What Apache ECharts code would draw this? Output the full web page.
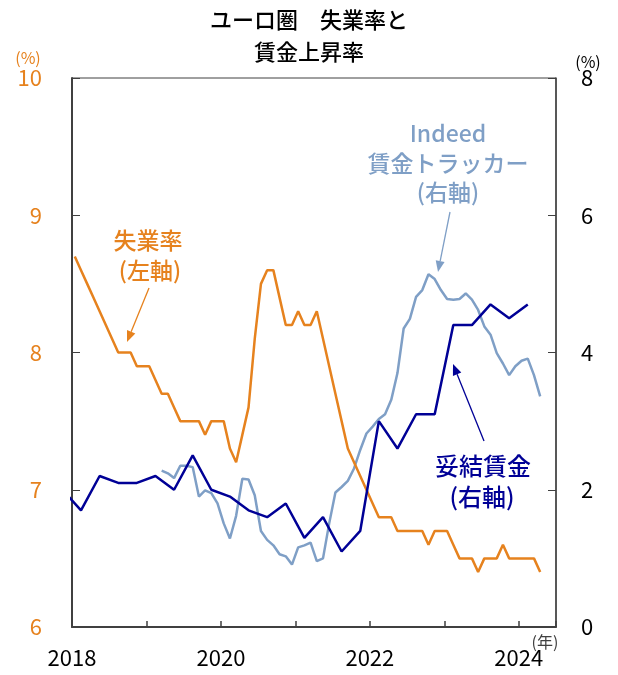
<!DOCTYPE html>
<html>
<head>
<meta charset="utf-8">
<script src="https://cdn.jsdelivr.net/npm/echarts@6/dist/echarts.min.js"></script>
<style>
html, body { margin: 0; padding: 0; background: #fff; }
#echart { width: 618px; height: 675px; }
</style>
</head>
<body>
<div id="echart"></div>
<script>
// 失業率 (左軸, %), monthly from 2018-01
var unempStart = [2018, 1];
var unemployment = [
	8.7, 8.6, 8.5, 8.4, 8.3, 8.2, 8.1, 8.0, 8.0, 8.0, 7.9, 7.9,
	7.9, 7.8, 7.7, 7.7, 7.6, 7.5, 7.5, 7.5, 7.5, 7.4, 7.5, 7.5,
	7.5, 7.3, 7.2, 7.4, 7.6, 8.1, 8.5, 8.6, 8.6, 8.4, 8.2, 8.2,
	8.3, 8.2, 8.2, 8.3, 8.1, 7.9, 7.7, 7.5, 7.3, 7.2, 7.1, 7.0,
	6.9, 6.8, 6.8, 6.8, 6.7, 6.7, 6.7, 6.7, 6.7, 6.6, 6.7, 6.7,
	6.7, 6.6, 6.5, 6.5, 6.5, 6.4, 6.5, 6.5, 6.5, 6.6, 6.5, 6.5,
	6.5, 6.5, 6.5, 6.4
];
// 妥結賃金 (右軸, %), quarterly from 2017Q4
var wageStart = [2017, 4];
var negotiatedWages = [
	2.0,
	1.7, 2.2, 2.1, 2.1,
	2.2, 2.0, 2.5, 2.0,
	1.9, 1.7, 1.6, 1.8,
	1.3, 1.6, 1.1, 1.4,
	3.0, 2.6, 3.1, 3.1,
	4.4, 4.4, 4.7, 4.5,
	4.7
];
// Indeed 賃金トラッカー (右軸, %), monthly from 2019-03
var indeedStart = [2019, 3];
var indeedTracker = [
	2.28, 2.24, 2.17, 2.35, 2.35, 2.33, 1.90, 1.99, 1.95, 1.80,
	1.51, 1.29, 1.62, 2.16, 2.15, 1.92, 1.40, 1.27, 1.19, 1.06, 1.03, 0.91,
	1.16, 1.19, 1.23, 0.96, 1.00, 1.51, 1.96, 2.04, 2.13, 2.31, 2.58, 2.82,
	2.92, 3.03, 3.10, 3.31, 3.70, 4.35, 4.49, 4.81, 4.91, 5.14, 5.07, 4.91,
	4.78, 4.77, 4.78, 4.86, 4.77, 4.62, 4.38, 4.26, 3.99, 3.84, 3.67, 3.80,
	3.88, 3.91, 3.67, 3.36
];
var yearLabels = [2018, 2020, 2022, 2024];

var ORANGE = '#E6821E';
var NAVY = '#000096';
var LIGHT = '#7F9FC6';
var AXIS = '#404040';
var FONT = "'Noto Sans CJK JP', 'Noto Sans', sans-serif";

// mid-month position on a decimal-year axis
function monthly(start, values) {
	return values.map(function (v, i) {
		var m = start[1] - 1 + i;
		return [start[0] + (m + 0.45) / 12, v];
	});
}
function quarterly(start, values) {
	return values.map(function (v, i) {
		var q = start[1] - 1 + i;
		return [start[0] + (q * 3 + 1 + 0.45) / 12, v];
	});
}

function arrow(x1, y1, x2, y2, color) {
	var a = Math.atan2(y2 - y1, x2 - x1);
	var c = Math.cos(a), s = Math.sin(a);
	var L = 11, W = 4.5;
	var bx = x2 - L * c, by = y2 - L * s;
	return [{
		type: 'line',
		shape: { x1: x1, y1: y1, x2: bx, y2: by },
		style: { stroke: color, lineWidth: 1.3 }
	}, {
		type: 'polygon',
		shape: { points: [[x2, y2], [bx - s * W, by + c * W], [bx + s * W, by - c * W]] },
		style: { fill: color }
	}];
}

function label(x, y, text, size, color, weight) {
	return {
		type: 'text', x: x, y: y,
		style: {
			text: text, fill: color,
			font: (weight || 'normal') + ' ' + size + 'px ' + FONT,
			textAlign: 'center', textVerticalAlign: 'middle'
		}
	};
}

var myChart = echarts.init(document.getElementById('echart'));

var graphics = [
	label(309, 20, 'ユーロ圏　失業率と', 22, '#000', 500),
	label(309, 52, '賃金上昇率', 22, '#000', 500),
	label(28, 58, '(%)', 16, ORANGE),
	label(588, 62, '(%)', 16, '#000'),
	label(545, 642, '(年)', 16, AXIS),
	label(448, 133, 'Indeed', 23, LIGHT, 500),
	label(448, 163, '賃金トラッカー', 23, LIGHT, 500),
	label(448, 192, '(右軸)', 23, LIGHT, 500),
	label(148, 240, '失業率', 23, ORANGE, 500),
	label(150, 270, '(左軸)', 23, ORANGE, 500),
	label(483, 466, '妥結賃金', 24, NAVY, 500),
	label(482, 497, '(右軸)', 24, NAVY, 500)
].concat(
	arrow(450, 212, 438, 272, LIGHT),
	arrow(149, 288, 127, 342, ORANGE),
	arrow(484, 441, 453, 364, NAVY)
);

var option = {
	animation: false,
	grid: {
		left: 72,
		right: 62,
		top: 78,
		bottom: 48,
		show: true,
		borderColor: AXIS,
		borderWidth: 1
	},
	xAxis: {
		type: 'value',
		min: 2018,
		max: 2024.5,
		interval: 1,
		splitLine: { show: false },
		axisLine: { lineStyle: { color: AXIS, width: 2 } },
		axisTick: { inside: true, length: 6, lineStyle: { color: AXIS, width: 1.5 } },
		axisLabel: {
			margin: 20,
			fontSize: 22,
			color: '#000',
			fontFamily: FONT,
			formatter: function (v) {
				return yearLabels.indexOf(v) >= 0 ? String(v) : '';
			}
		}
	},
	yAxis: [{
		type: 'value',
		position: 'left',
		min: 6,
		max: 10,
		interval: 1,
		splitLine: { show: false },
		axisLine: { show: true, lineStyle: { color: AXIS, width: 2 } },
		axisTick: { show: true, inside: true, length: 8, lineStyle: { color: AXIS } },
		axisLabel: { margin: 30, fontSize: 22, color: ORANGE, fontFamily: FONT }
	}, {
		type: 'value',
		position: 'right',
		min: 0,
		max: 8,
		interval: 2,
		splitLine: { show: false },
		axisLine: { show: true, lineStyle: { color: AXIS, width: 1.5 } },
		axisTick: { show: true, inside: true, length: 8, lineStyle: { color: AXIS } },
		axisLabel: { margin: 25, fontSize: 22, color: '#000', fontFamily: FONT }
	}],
	series: [{
		name: 'Indeed賃金トラッカー',
		type: 'line',
		yAxisIndex: 1,
		symbol: 'none',
		lineStyle: { color: LIGHT, width: 2.5 },
		data: monthly(indeedStart, indeedTracker)
	}, {
		name: '失業率',
		type: 'line',
		yAxisIndex: 0,
		symbol: 'none',
		lineStyle: { color: ORANGE, width: 2.5 },
		data: monthly(unempStart, unemployment)
	}, {
		name: '妥結賃金',
		type: 'line',
		yAxisIndex: 1,
		symbol: 'none',
		lineStyle: { color: NAVY, width: 2.5 },
		data: quarterly(wageStart, negotiatedWages)
	}],
	graphic: graphics
};
myChart.setOption(option);
</script>
</body>
</html>
